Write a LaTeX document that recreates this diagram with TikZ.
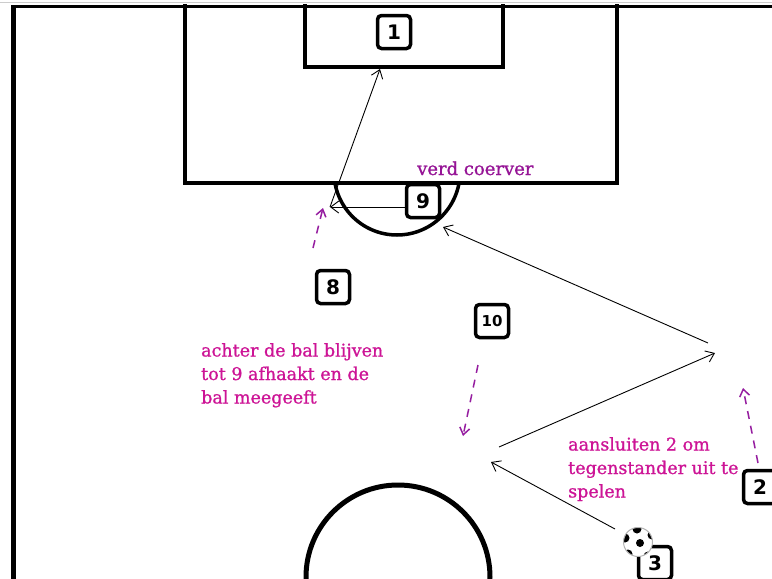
\documentclass[tikz,border=0pt]{standalone}
\usepackage{fontspec}
\setmainfont[FakeBold=1.2,AutoFakeBold=1.2]{DejaVu Serif}
\newfontfamily\notefont[FakeBold=1.0]{DejaVu Serif}
\newfontfamily\numfont{DejaVu Sans}
\usetikzlibrary{arrows.meta,calc}
\definecolor{purp}{RGB}{150,20,150}
\definecolor{magt}{RGB}{205,20,150}
\definecolor{dashc}{RGB}{150,30,160}
\tikzset{
  field/.style={line width=4pt, line cap=rect},
  player/.style={draw, line width=3.5pt, rounded corners=4pt, minimum width=33pt, minimum height=33pt, inner sep=0pt, font=\numfont\bfseries\fontsize{20}{20}\selectfont, fill=white},
  pass/.style={line width=0.9pt, -{Straight Barb[length=8pt,width=12pt,line width=0.9pt]}},
  run/.style={dashc, line width=1.5pt, dash pattern=on 8pt off 7pt, -{Straight Barb[length=7pt,width=10pt,line width=1.5pt]}},
  note/.style={magt, inner sep=0pt, align=left, anchor=north west, font=\notefont\fontsize{17.5}{23.5}\selectfont},
}
\begin{document}
\begin{tikzpicture}[x=1pt,y=-1pt]
\useasboundingbox (0,0) rectangle (772,579);
\fill[white] (0,0) rectangle (772,579);
% thin grey top line
\draw[gray!40, line width=1.5pt] (0,2.5) -- (772,2.5);
% field outline
\draw[line width=3pt] (11,6.5) -- (772,6.5);
\draw[line width=5pt] (13,5) -- (13,579);
% penalty box
\draw[field] (185,6) -- (185,183) -- (617,183) -- (617,6);
% goal box
\draw[field] (305,6) -- (305,67) -- (503,67) -- (503,6);
% penalty arc
\begin{scope}
\clip (0,185) rectangle (772,579);
\draw[line width=3.5pt] (397,172) circle[radius=63];
\end{scope}
% centre circle
\draw[line width=5pt] (398,577) circle[radius=92];

% players
\node[player] (p1) at (394,32) {1};
\node[player] (p9) at (423,201) {9};
\node[player] (p8) at (333,287) {8};
\node[player, font=\numfont\bfseries\fontsize{15}{15}\selectfont] (p10) at (492,321) {10};
\node[player] (p2) at (760,487) {2};
\node[player] (p3) at (655,563) {3};

% ball
\coordinate (ballc) at (638,542);
\begin{scope}
\fill[white] (ballc) circle[radius=14.5];
\clip (ballc) circle[radius=14.5];
\fill[black] (640,543) circle[radius=4];
\fill[black] (637,529) circle[radius=4.5];
\fill[black] (625,538) circle[radius=4.5];
\fill[black] (652,535) circle[radius=4.5];
\fill[black] (628,554) circle[radius=4.5];
\fill[black] (648,556) circle[radius=4.5];
\end{scope}
\draw[gray!60, line width=1pt] (ballc) circle[radius=14.5];

% pass points
\coordinate (s3) at (615,529);
\coordinate (c1) at (491,462);
\coordinate (c2) at (499,447);
\coordinate (c3) at (715,353);
\coordinate (c4) at (708,343);
\coordinate (c5) at (443,227);
\coordinate (c6) at (330,207);
\coordinate (c7) at (380,69);

\draw[pass] (s3) -- (c1);
\draw[pass] (c2) -- (c3);
\draw[pass] (c4) -- (c5);
\draw[pass] ([yshift=-6pt]p9.west) -- (c6);
\draw[pass] (c6) -- (c7);

% runs
\coordinate (r8a) at (313,248);
\coordinate (r8b) at (323,208);
\coordinate (r10a) at (478,365);
\coordinate (r10b) at (463,436);
\coordinate (r2a) at (758,463);
\coordinate (r2b) at (743,388);
\draw[run] (r8a) -- (r8b);
\draw[run] (r10a) -- (r10b);
\draw[run] (r2a) -- (r2b);

% texts
\node[purp, inner sep=0pt, anchor=base west, font=\notefont\fontsize{18}{18}\selectfont] (tv) at (417,175) {verd coerver};
\node[note] (t8) at (201,343) {achter de bal blijven\\tot 9 afhaakt en de\\bal meegeeft};
\node[note] (t2) at (568,437) {aansluiten 2 om\\tegenstander uit te\\spelen};
\end{tikzpicture}
\end{document}
